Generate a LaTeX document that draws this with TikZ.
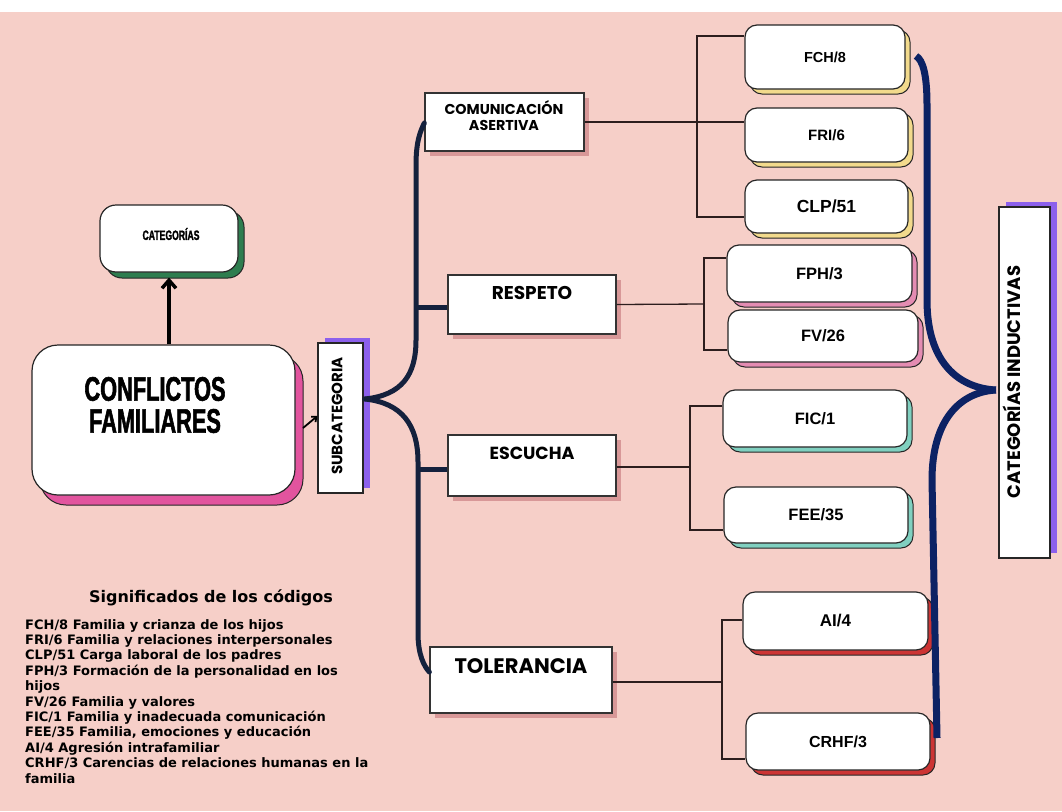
\documentclass[tikz,border=0pt]{standalone}
\usepackage{fontspec}
\setmainfont{Liberation Sans}
\newfontfamily\condfont[FakeStretch=0.64,FakeBold=1.6]{Liberation Sans}
\newfontfamily\popfont{Poppins}
\newfontfamily\djfont{DejaVu Sans}
\usetikzlibrary{arrows.meta,shadows,calc}
\definecolor{bgpink}{RGB}{246,207,200}
\definecolor{navyL}{RGB}{20,33,61}
\definecolor{navyR}{RGB}{12,34,100}
\definecolor{shgreen}{RGB}{46,125,79}
\definecolor{shmag}{RGB}{226,84,158}
\definecolor{shpurp}{RGB}{140,96,236}
\definecolor{shylw}{RGB}{242,218,140}
\definecolor{shpk}{RGB}{228,140,178}
\definecolor{shteal}{RGB}{128,208,192}
\definecolor{shred}{RGB}{204,52,52}
\definecolor{shsoft}{RGB}{216,152,152}
\definecolor{lnc}{RGB}{45,30,30}
\tikzset{
  roundbox/.style={draw=black!85, line width=1.2pt, fill=white, inner sep=0pt},
  codebox/.style={roundbox, rounded corners=12pt, font=\bfseries},
  sh/.style={general shadow={shadow xshift=5pt, shadow yshift=-5pt, fill=#1, draw=black!85, line width=1pt}},
  subbox/.style={draw=black!80, line width=1.3pt, fill=white, inner sep=0pt,
     general shadow={shadow xshift=5pt, shadow yshift=-5pt, fill=shsoft}},
  subtext/.style={font=\popfont\bfseries, align=center, inner sep=0pt},
  conn/.style={draw=lnc, line width=1.3pt},
  lbrace/.style={draw=navyL, line width=5pt, line cap=round},
  rbrace/.style={draw=navyR, line width=7pt},
  vbox/.style={draw=black!85, line width=1.2pt, fill=white, inner sep=0pt,
     general shadow={shadow xshift=7pt, shadow yshift=5pt, fill=shpurp}},
}
\begin{document}
\begin{tikzpicture}[x=1pt,y=-1pt]
\useasboundingbox (0,0) rectangle (1062,811);
\fill[white] (0,0) rectangle (1062,811);
\fill[bgpink] (0,12) rectangle (1062,811);

% ---- left part
\node[roundbox, rounded corners=16pt, minimum width=138pt, minimum height=67pt,
  general shadow={shadow xshift=6pt, shadow yshift=-6pt, fill=shgreen, draw=black!85, line width=1pt}]
  (cat) at (169,238.5) {};
\node[font=\condfont\bfseries\fontsize{13.5}{14}\selectfont, inner sep=0pt] (catt) at (171,234) {CATEGORÍAS};

\node[roundbox, rounded corners=26pt, minimum width=263pt, minimum height=150pt,
  general shadow={shadow xshift=8pt, shadow yshift=-10pt, fill=shmag, draw=black!85, line width=1pt}]
  (conf) at (163.5,420) {};
\node[font=\condfont\bfseries\fontsize{34}{32}\selectfont, align=center, inner sep=0pt] (conft) at (155,405) {CONFLICTOS\\FAMILIARES};

\draw[line width=3.5pt, -{Straight Barb[length=8pt,width=14pt]}] (cat.south |- conf.north) -- ($(cat.south)+(0,5)$);

\node[vbox, minimum width=45pt, minimum height=150pt] (sub) at (340.5,418) {};
\node[font=\popfont\bfseries\fontsize{15}{16}\selectfont, rotate=90, inner sep=0pt] (subt) at (337,416) {SUBCATEGORIA};

\coordinate (arrs) at (303,428);
\draw[line width=1.8pt, -{Straight Barb[length=4pt,width=7pt]}] (arrs) -- (sub.west |- 0,416);

% ---- subcategories
\node[subbox, minimum width=159pt, minimum height=58pt] (cas) at (504.5,122) {};
\node[subtext, font=\popfont\bfseries\fontsize{14.3}{16}\selectfont] (cast) at (504,116) {COMUNICACIÓN\\ASERTIVA};
\node[subbox, minimum width=168pt, minimum height=59pt] (resp) at (532,304.5) {};
\node[subtext, font=\popfont\bfseries\fontsize{18.5}{20}\selectfont] (respt) at (532,293) {RESPETO};
\node[subbox, minimum width=168pt, minimum height=61pt] (esc) at (532,465.5) {};
\node[subtext, font=\popfont\bfseries\fontsize{17.5}{19}\selectfont] (esct) at (532,453) {ESCUCHA};
\node[subbox, minimum width=182pt, minimum height=66pt] (tol) at (521,680) {};
\node[subtext, font=\popfont\bfseries\fontsize{21}{23}\selectfont] (tolt) at (521,666) {TOLERANCIA};

% left brace
\coordinate (ltip) at (365,399);
\draw[lbrace] (ltip) .. controls (402,395) and (416,375) .. (416,340) -- (416,165)
   .. controls (416,140) and (421,130) .. (cas.west |- 0,123);
\draw[lbrace] (ltip) .. controls (402,403) and (418,425) .. (418,462) -- (418,633)
   .. controls (418,655) and (424,666) .. (tol.west |- 0,672);
\draw[navyL, line width=5pt] (418,307) -- (resp.west |- 0,307);
\draw[navyL, line width=5pt] (418,469) -- (esc.west |- 0,469);

% ---- code boxes
\node[codebox, sh=shylw, minimum width=160pt, minimum height=64pt] (fch) at (825,57) {\fontsize{14.5}{16}\selectfont\raisebox{-4pt}{FCH/8}};
\node[codebox, sh=shylw, minimum width=163pt, minimum height=54pt] (fri) at (826.5,135) {\fontsize{15}{16}\selectfont FRI/6};
\node[codebox, sh=shylw, minimum width=163pt, minimum height=53pt] (clp) at (826.5,206.5) {\fontsize{17.5}{18}\selectfont CLP/51};
\node[codebox, sh=shpk, minimum width=185pt, minimum height=57pt] (fph) at (819.5,273.5) {\fontsize{16.5}{18}\selectfont FPH/3};
\node[codebox, sh=shpk, minimum width=190pt, minimum height=52pt] (fv) at (823,336) {\fontsize{16.5}{18}\selectfont FV/26};
\node[codebox, sh=shteal, minimum width=184pt, minimum height=57pt] (fic) at (815,418.5) {\fontsize{16.5}{18}\selectfont FIC/1};
\node[codebox, sh=shteal, minimum width=184pt, minimum height=56pt] (fee) at (816,515) {\fontsize{16.5}{18}\selectfont FEE/35};
\node[codebox, sh=shred, minimum width=185pt, minimum height=58pt] (ai) at (835.5,621) {\fontsize{17}{18}\selectfont AI/4};
\node[codebox, sh=shred, minimum width=184pt, minimum height=57pt] (crhf) at (838,741.5) {\fontsize{16}{18}\selectfont CRHF/3};

% ---- connectors / brackets
\coordinate (b1) at (697,126);
\draw[conn] (cas.east) -- (fri.west |- cas.east);
\draw[conn] (fch.west |- 0,36) -| (b1) |- (clp.west |- 0,217);
\coordinate (b2) at (704,304);
\draw[conn] (resp.east) -- (b2);
\draw[conn] (fph.west |- 0,258) -| (b2) |- (fv.west |- 0,350);
\coordinate (b3) at (690,467);
\draw[conn] (esc.east |- b3) -- (b3);
\draw[conn] (fic.west |- 0,406) -| (b3) |- (fee.west |- 0,530);
\coordinate (b4) at (722,682);
\draw[conn] (tol.east |- b4) -- (b4);
\draw[conn] (ai.west |- 0,620) -| (b4) |- (crhf.west |- 0,759);

% ---- right side
\node[vbox, minimum width=51pt, minimum height=351pt] (cind) at (1024.5,382.5) {};
\node[font=\popfont\bfseries\fontsize{18}{19}\selectfont, rotate=90, inner sep=0pt] (cindt) at (1012,382) {CATEGORÍAS INDUCTIVAS};

\coordinate (rtip) at (996,390);
\coordinate (rtop) at (916,56);
\draw[rbrace] (rtop) .. controls (923,60) and (927,75) .. (927,105) -- (927,300)
   .. controls (927,362) and (958,388) .. (rtip);
\draw[rbrace] (rtip) .. controls (960,392) and (932,420) .. (932,480) -- (937,738);

% ---- legend
\node[font=\djfont\bfseries\fontsize{16}{18}\selectfont, inner sep=0pt] (legh) at (211,598) {Significados de los códigos};
\node[font=\djfont\bfseries\fontsize{13}{15.4}\selectfont, align=left, anchor=north west, inner sep=0pt] (leg) at (25,619) {%
FCH/8 Familia y crianza de los hijos\\
FRI/6 Familia y relaciones interpersonales\\
CLP/51 Carga laboral de los padres\\
FPH/3 Formación de la personalidad en los\\
hijos\\
FV/26 Familia y valores\\
FIC/1 Familia y inadecuada comunicación\\
FEE/35 Familia, emociones y educación\\
AI/4 Agresión intrafamiliar\\
CRHF/3 Carencias de relaciones humanas en la\\
familia};
\end{tikzpicture}
\end{document}
